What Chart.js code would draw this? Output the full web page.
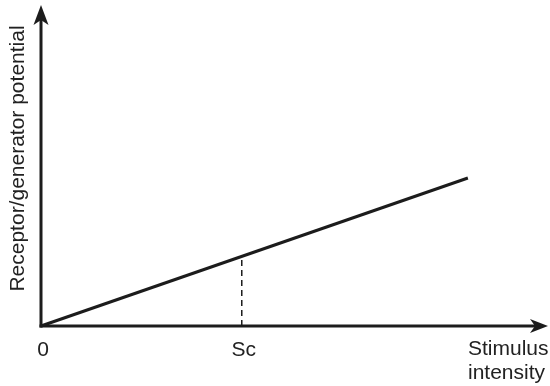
<!DOCTYPE html>
<html>
<head>
<meta charset="utf-8">
<script src="https://cdn.jsdelivr.net/npm/chart.js@4"></script>
<style>
  html, body { margin: 0; padding: 0; background: #fff; }
  #wrap { width: 550px; height: 386px; }
</style>
</head>
<body>
<div id="wrap"><canvas id="receptorChart" width="550" height="386"></canvas></div>
<script>
// stimulus intensity (x) vs receptor/generator potential (y), arbitrary units 0..100
const stimulus = [0, 84.2];
const potential = [0, 46.1];
// threshold stimulus Sc and the potential reached there
const scValue = 39.6;
const scPotential = 21.7;
// tick labels along the x axis
const tickValues = [0, scValue];
const tickLabels = ['0', 'Sc'];
const xTitle = ['Stimulus', 'intensity'];
const yTitle = 'Receptor/generator potential';

const ink = '#1c1c1c';
const textColor = '#222';
const fontFamily = '"Liberation Sans", Arial, Helvetica, sans-serif';

// axes with arrow heads + labels, drawn from the chart area / scales
const axesPlugin = {
  id: 'arrowAxes',
  beforeDatasetsDraw(chart) {
    const { ctx, chartArea } = chart;
    const x0 = chart.scales.x.getPixelForValue(0);
    const y0 = chart.scales.y.getPixelForValue(0);
    ctx.save();
    ctx.strokeStyle = ink;
    ctx.fillStyle = ink;
    ctx.lineWidth = 3;
    ctx.lineCap = 'butt';

    // y axis
    ctx.beginPath();
    ctx.moveTo(x0, y0 + 1.5);
    ctx.lineTo(x0, chartArea.top + 12);
    ctx.stroke();
    ctx.beginPath();
    ctx.moveTo(x0, chartArea.top);
    ctx.lineTo(x0 + 7.5, chartArea.top + 20);
    ctx.lineTo(x0, chartArea.top + 15);
    ctx.lineTo(x0 - 7.5, chartArea.top + 20);
    ctx.closePath();
    ctx.fill();

    // x axis
    ctx.beginPath();
    ctx.moveTo(x0 - 1.5, y0);
    ctx.lineTo(chartArea.right - 12, y0);
    ctx.stroke();
    ctx.beginPath();
    ctx.moveTo(chartArea.right, y0);
    ctx.lineTo(chartArea.right - 18, y0 - 7);
    ctx.lineTo(chartArea.right - 13, y0);
    ctx.lineTo(chartArea.right - 18, y0 + 7);
    ctx.closePath();
    ctx.fill();

    // tick labels
    ctx.fillStyle = textColor;
    ctx.font = '21px ' + fontFamily;
    ctx.textAlign = 'center';
    ctx.textBaseline = 'alphabetic';
    tickValues.forEach((v, i) => {
      ctx.fillText(tickLabels[i], chart.scales.x.getPixelForValue(v) + 2, y0 + 30);
    });

    // x title at the right end, two lines
    ctx.textAlign = 'left';
    ctx.fillText(xTitle[0], chartArea.right - 80, y0 + 29);
    ctx.fillText(xTitle[1], chartArea.right - 80, y0 + 53);

    // y title rotated
    ctx.translate(18, (chartArea.top + y0) / 2 - 7);
    ctx.rotate(-Math.PI / 2);
    ctx.textAlign = 'center';
    ctx.textBaseline = 'middle';
    ctx.fillText(yTitle, 0, 0);
    ctx.restore();
  }
};

const ctx = document.getElementById('receptorChart').getContext('2d');
window.receptorChart = new Chart(ctx, {
  type: 'scatter',
  data: {
    datasets: [
      {
        label: 'potential',
        data: stimulus.map((s, i) => ({ x: s, y: potential[i] })),
        showLine: true,
        borderColor: ink,
        borderWidth: 3,
        pointRadius: 0,
        clip: false
      },
      {
        label: 'Sc',
        data: [{ x: scValue, y: 0 }, { x: scValue, y: scPotential }],
        showLine: true,
        borderColor: ink,
        borderWidth: 1.5,
        borderDash: [6, 4],
        pointRadius: 0,
        clip: false
      }
    ]
  },
  options: {
    responsive: false,
    animation: false,
    layout: { padding: { left: 41, top: 5, right: 2, bottom: 60 } },
    plugins: {
      legend: { display: false },
      tooltip: { enabled: false }
    },
    scales: {
      x: { type: 'linear', min: 0, max: 100, display: false },
      y: { type: 'linear', min: 0, max: 100, display: false }
    }
  },
  plugins: [axesPlugin]
});
</script>
</body>
</html>
